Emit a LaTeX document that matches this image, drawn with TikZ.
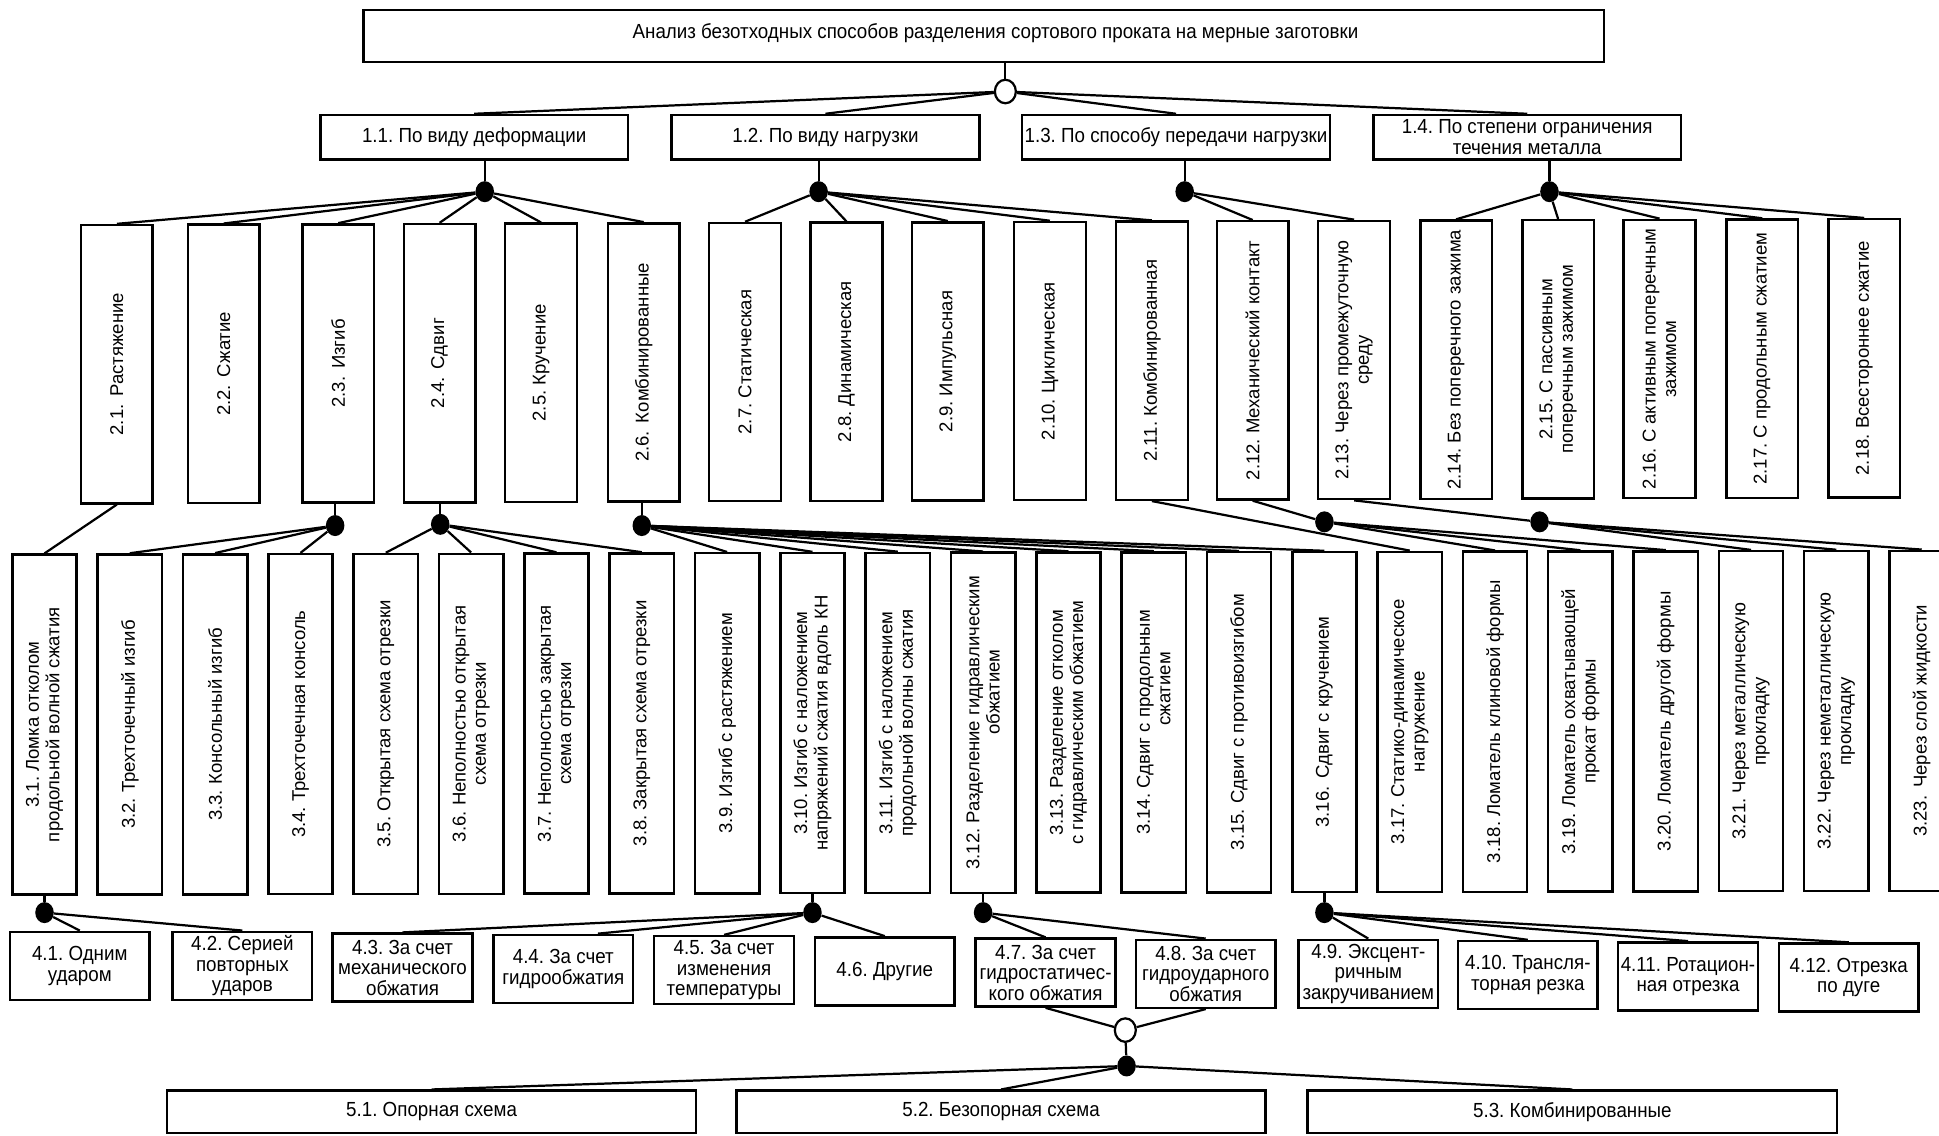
\documentclass[tikz,border=0pt]{standalone}
\usepackage{fontspec}
\setmainfont{Liberation Sans}
\newfontfamily\narrowfont[FakeStretch=0.92]{Liberation Sans}
\usetikzlibrary{shapes.geometric,calc}
\newcommand\hfnt{\narrowfont\fontsize{16.5}{16.5}\selectfont}
\newcommand\vfnt{\fontsize{15}{16.5}\selectfont}
\newcommand\wsp{\hspace{0.42em}}
\frenchspacing
\begin{document}
\frenchspacing
\begin{tikzpicture}[x=1pt,y=-1pt,
  bx/.style={draw,line width=2pt,fill=white,inner sep=0pt},
  hb/.style={bx,font=\hfnt,align=center},
  vt/.style={rotate=90,font=\vfnt,align=center,inner sep=0pt},
  fdot/.style={ellipse,fill=black,minimum width=15pt,minimum height=17pt,inner sep=0pt},
  odot/.style={ellipse,draw,line width=1.8pt,fill=white,minimum width=17pt,minimum height=19pt,inner sep=0pt},
  cn/.style={line width=1.8pt}]
\useasboundingbox (0,0) rectangle (1568,918);
\fill[white] (0,0) rectangle (1568,918);

% title
\node[bx,minimum width=1003pt,minimum height=42pt] (title) at (795.5,29) {};
\node[font=\hfnt,inner sep=0pt] (titlet) at (805,27) {Анализ безотходных способов разделения сортового проката на мерные заготовки};

% level 1
\foreach \n/\x/\t in {1/383.5/{1.1. По виду деформации},2/667.5/{1.2. По виду нагрузки},3/951/{1.3. По способу передачи нагрузки},4/1235/{1.4. По степени ограничения\\течения металла}}
  \node[hb,minimum width=249pt,minimum height=36pt] (b1-\n) at (\x,111) {\t};

% level 2
\foreach \n/\x/\t in {1/94.5/{2.1.\wsp Растяжение},2/181/{2.2.\wsp Сжатие},3/273.5/{2.3.\wsp Изгиб},4/355.5/{2.4.\wsp Сдвиг},5/437.5/{2.5. Кручение},6/520.5/{2.6.\wsp Комбинированные},7/602.5/{2.7. Статическая},8/684.5/{2.8. Динамическая},9/766.5/{2.9. Импульсная},10/849/{2.10. Циклическая},11/931.5/{2.11. Комбинированная},12/1013/{2.12. Механический контакт},13/1095/{2.13. Через промежуточную\\среду},14/1177.5/{2.14. Без поперечного зажима},15/1260/{2.15. С пассивным\\поперечным зажимом},16/1342/{2.16. С активным поперечным\\зажимом},17/1425/{2.17. С продольным сжатием},18/1507.5/{2.18. Всестороннее сжатие}}{
  \pgfmathsetmacro\yy{294.5-0.28*(\n-1)}
  \node[bx,minimum width=58pt,minimum height=225pt] (b2-\n) at (\x,\yy) {};
  \node[vt] (t2-\n) at (b2-\n.center) {\t};
}

% level 3
\foreach \n/\t in {1/{3.1. Ломка отколом\\продольной волной сжатия},2/{3.2. Трехточечный изгиб},3/{3.3. Консольный изгиб},4/{3.4. Трехточечная консоль},5/{3.5. Открытая схема отрезки},6/{3.6. Неполностью открытая\\схема отрезки},7/{3.7. Неполностью закрытая\\схема отрезки},8/{3.8. Закрытая схема отрезки},9/{3.9. Изгиб с растяжением},10/{3.10. Изгиб с наложением\\напряжений сжатия вдоль КН},11/{3.11. Изгиб с наложением\\продольной волны сжатия},12/{3.12. Разделение гидравлическим\\\hspace*{50pt}обжатием},13/{3.13. Разделение отколом\\с гидравлическим обжатием},14/{3.14. Сдвиг с продольным\\\hspace*{54pt}сжатием},15/{3.15. Сдвиг с противоизгибом},16/{3.16.\wsp Сдвиг с кручением},17/{3.17. Статико-динамическое\\нагружение},18/{3.18. Ломатель клиновой формы},19/{3.19. Ломатель охватывающей\\прокат формы},20/{3.20. Ломатель другой формы},21/{3.21. Через металлическую\\прокладку},22/{3.22. Через неметаллическую\\прокладку},23/{3.23.\wsp Через слой жидкости}}{
  \pgfmathsetmacro\xx{36+69*(\n-1)}
  \pgfmathsetmacro\yy{586-0.14*(\n-1)}
  \node[bx,minimum width=52pt,minimum height=275pt] (b3-\n) at (\xx,\yy) {};
  \node[vt] (t3-\n) at (b3-\n.center) {\t};
}

% level 4
\foreach \n/\x/\y/\t in {1/64.5/781/{4.1. Одним\\ударом},2/196/781/{4.2. Серией\\повторных\\ударов},3/325.5/782.5/{4.3. За счет\\механического\\обжатия},4/455.5/783.5/{4.4. За счет\\гидрообжатия},5/585.5/784.5/{4.5. За счет\\изменения\\температуры},6/715.5/785.5/{4.6. Другие},7/845.5/786.5/{4.7. За счет\\гидростатичес-\\кого обжатия},8/975/787.5/{4.8. За счет\\гидроударного\\обжатия},9/1106.5/787.5/{4.9. Эксцент-\\ричным\\закручиванием},10/1235.5/788.5/{4.10. Трансля-\\торная резка},11/1365/789.5/{4.11. Ротацион-\\ная отрезка},12/1495/790.5/{4.12. Отрезка\\по дуге}}
  \node[hb,minimum width=113pt,minimum height=55pt] (b4-\n) at (\x,\y) {\t};

% level 5
\foreach \n/\x/\t in {1/349/{5.1. Опорная схема},2/809.5/{5.2. Безопорная схема},3/1271.5/{5.3. Комбинированные}}
  \node[hb,minimum width=428pt,minimum height=34pt] (b5-\n) at (\x,899) {\t};

% junctions
\node[odot] (c0) at (813,74) {};
\node[fdot] (d11) at (392,155) {};
\node[fdot] (d12) at (662,155) {};
\node[fdot] (d13) at (958,155) {};
\node[fdot] (d14) at (1253,155) {};
\node[fdot] (d23) at (271,425) {};
\node[fdot] (d24) at (356,424) {};
\node[fdot] (d26) at (519,425) {};
\node[fdot] (d212) at (1071,422) {};
\node[fdot] (d213) at (1245,422) {};
\node[fdot] (d31) at (36,738) {};
\node[fdot] (d310) at (657,738) {};
\node[fdot] (d312) at (795,738) {};
\node[fdot] (d316) at (1071,738) {};
\node[odot] (c47) at (910,833) {};
\node[fdot] (d5) at (911,862) {};

% connectors
\draw[cn] (c0 |- title.south) -- (c0);
\foreach \k in {1,...,4} \draw[cn] (c0) -- (b1-\k.north);
\draw[cn] (d11 |- b1-1.south) -- (d11);
\draw[cn] (d12 |- b1-2.south) -- (d12);
\draw[cn] (d13 |- b1-3.south) -- (d13);
\draw[cn] (d14 |- b1-4.south) -- (d14);
\foreach \k in {1,...,6} \draw[cn] (d11) -- (b2-\k.north);
\foreach \k in {7,...,11} \draw[cn] (d12) -- (b2-\k.north);
\foreach \k in {12,13} \draw[cn] (d13) -- (b2-\k.north);
\foreach \k in {14,...,18} \draw[cn] (d14) -- (b2-\k.north);

\draw[cn] (b2-1.south) -- (b3-1.north);
\draw[cn] (d23 |- b2-3.south) -- (d23);
\draw[cn] (d24 |- b2-4.south) -- (d24);
\draw[cn] (d26 |- b2-6.south) -- (d26);
\foreach \k in {2,3,4} \draw[cn] (d23) -- (b3-\k.north);
\foreach \k in {5,...,8} \draw[cn] (d24) -- (b3-\k.north);
\foreach \k in {9,...,16} \draw[cn] (d26) -- (b3-\k.north);
\draw[cn] (b2-11.south) -- (b3-17.north);
\draw[cn] (b2-12.south) -- (d212);
\draw[cn] (b2-13.south) -- (d213);
\foreach \k in {18,19,20} \draw[cn] (d212) -- (b3-\k.north);
\foreach \k in {21,22,23} \draw[cn] (d213) -- (b3-\k.north);

\draw[cn] (d31 |- b3-1.south) -- (d31);
\draw[cn] (d310 |- b3-10.south) -- (d310);
\draw[cn] (d312 |- b3-12.south) -- (d312);
\draw[cn] (d316 |- b3-16.south) -- (d316);
\foreach \k in {1,2} \draw[cn] (d31) -- (b4-\k.north);
\foreach \k in {3,5,6} \draw[cn] (d310) -- (b4-\k.north);
\draw[cn] (d310) -- ([xshift=28pt]b4-4.north);
\foreach \k in {7,8} \draw[cn] (d312) -- (b4-\k.north);
\foreach \k in {9,...,12} \draw[cn] (d316) -- (b4-\k.north);

\draw[cn] (b4-7.south) -- (c47);
\draw[cn] (b4-8.south) -- (c47);
\draw[cn] (c47) -- (d5);
\foreach \k in {1,2,3} \draw[cn] (d5) -- (b5-\k.north);
\end{tikzpicture}
\end{document}
